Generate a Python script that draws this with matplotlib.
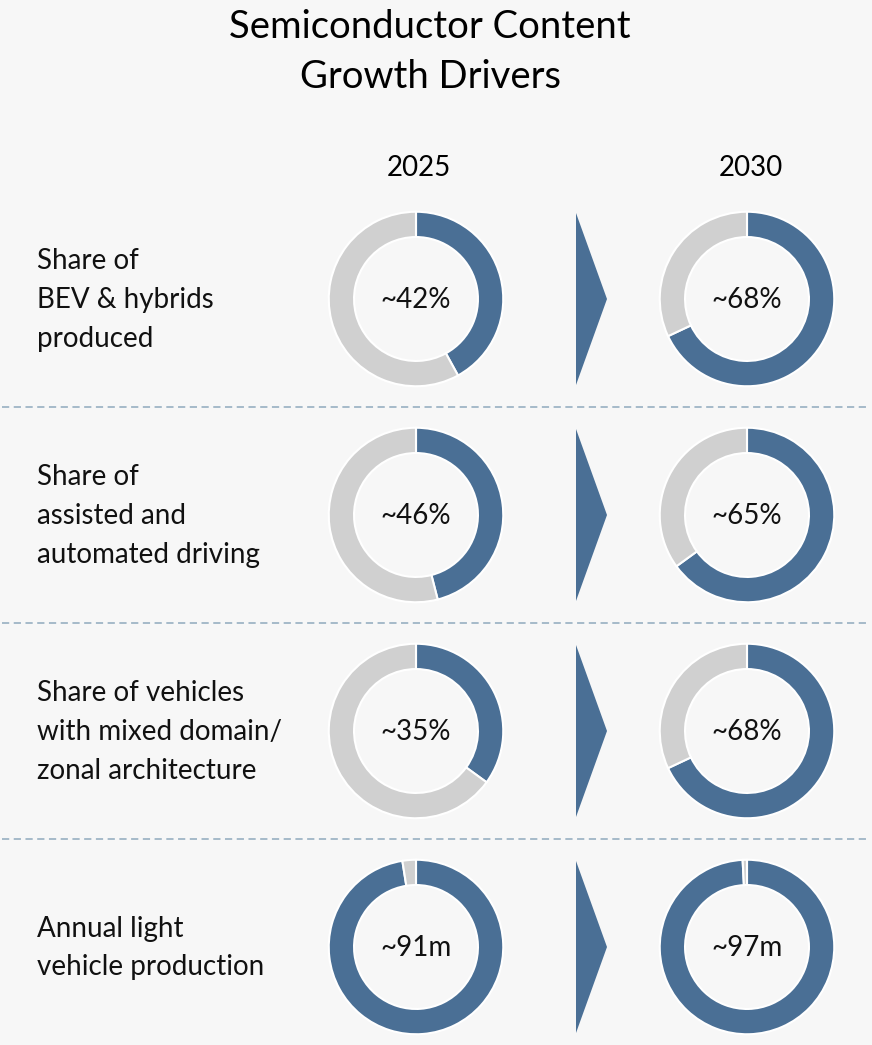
import numpy as np
import matplotlib.pyplot as plt
from matplotlib.patches import Polygon

plt.rcParams['font.family'] = ['Lato', 'DejaVu Sans']

title = "Semiconductor Content\nGrowth Drivers"
years = ["2025", "2030"]
row_labels = [
    "Share of\nBEV & hybrids\nproduced",
    "Share of\nassisted and\nautomated driving",
    "Share of vehicles\nwith mixed domain/\nzonal architecture",
    "Annual light\nvehicle production",
]
# blue share of each ring (percent of full circle)
share_2025 = [42, 46, 35, 97.5]
share_2030 = [68, 65, 68, 99.2]
text_2025 = ["~42%", "~46%", "~35%", "~91m"]
text_2030 = ["~68%", "~65%", "~68%", "~97m"]

BLUE = "#4a6f95"
GREY = "#d0d0d0"
BG = "#f7f7f7"

W, H = 872, 1045
fig = plt.figure(figsize=(W / 100, H / 100), dpi=100, facecolor=BG)
ax = fig.add_axes([0, 0, 1, 1])
ax.set_xlim(0, W)
ax.set_ylim(H, 0)
ax.axis("off")
ax.set_facecolor(BG)

ax.text(430, 52, title, ha="center", va="center", fontsize=27.5, linespacing=1.5, color="black")
ax.text(419, 168, years[0], ha="center", va="center", fontsize=20, color="black")
ax.text(751, 168, years[1], ha="center", va="center", fontsize=20, color="black")

row_y = [299, 515, 731, 947]
cx = [416, 747]
R = 89

def donut(x, y, share, label):
    a = fig.add_axes([(x - R) / W, 1 - (y + R) / H, 2 * R / W, 2 * R / H])
    a.pie([share, 100 - share], colors=[BLUE, GREY], startangle=90, counterclock=False,
          radius=1.0, wedgeprops=dict(width=0.29, edgecolor="white", linewidth=1.5))
    a.set_xlim(-1.02, 1.02)
    a.set_ylim(-1.02, 1.02)
    a.set_aspect("equal")
    a.axis("off")
    ax.text(x, y + 1, label, ha="center", va="center", fontsize=20, color="#111111")

for i, y in enumerate(row_y):
    ax.text(37, y + 1, row_labels[i], ha="left", va="center", fontsize=20, linespacing=1.6, color="#111111")
    donut(cx[0], y, share_2025[i], text_2025[i])
    donut(cx[1], y, share_2030[i], text_2030[i])
    ax.add_patch(Polygon([[576, y - 86], [607, y], [576, y + 86]], closed=True,
                         facecolor=BLUE, edgecolor="none"))

for y in [407, 623, 839]:
    ax.plot([2, W - 2], [y, y], color="#9fb5c6", lw=1.3, ls=(0, (4, 2.5)))

fig.savefig("out.png", dpi=100, facecolor=BG)
